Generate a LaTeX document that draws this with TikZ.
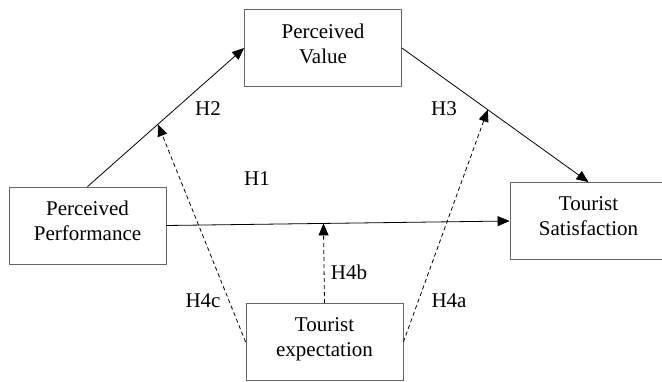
\documentclass[tikz,border=0pt]{standalone}
\usepackage{fontspec}
\setmainfont{Liberation Serif}
\usetikzlibrary{arrows.meta,calc}

\begin{document}
\begin{tikzpicture}[x=1pt,y=-1pt,
      box/.style={draw=black!60,line width=.8pt,minimum width=157pt,minimum height=77pt,
        align=center,inner sep=0pt,text depth=9pt,font=\fontsize{21}{25}\selectfont},
      effect/.style={-{Triangle[length=12pt,width=10pt]},line width=.8pt},
      moderate/.style={effect,dash pattern=on 4pt off 3pt},
      hyp/.style={font=\fontsize{21}{25}\selectfont}
      ]
      \useasboundingbox (0,0) rectangle (662,382);

      \node[box] (pv) at (323,48) {Perceived\\Value};
      \node[box] (pp) at (87.5,225.5) {Perceived\\Performance};
      \node[box] (ts) at (588.5,221) {Tourist\\Satisfaction};
      \node[box] (te) at (324.5,342) {Tourist\\expectation};

      \draw[effect] (pp.north) -- (pv.west);
      \draw[effect] (pv.east) -- (ts.north);
      \draw[effect] (pp.east) -- (ts.west);

      \coordinate (m2) at ($(pp.north)!.45!(pv.west)$);
      \coordinate (m3) at ($(pv.east)!.46!(ts.north)$);
      \coordinate (m1) at ($(pp.east)!(te.north)!(ts.west)$);
      \draw[moderate] (te.west) -- (m2);
      \draw[moderate] (te.east) -- (m3);
      \draw[moderate] (te.north) -- (m1);

      \node[hyp] (h1) at (257,179) {H1};
      \node[hyp] (h2) at (208,109) {H2};
      \node[hyp] (h3) at (444,109) {H3};
      \node[hyp] (h4a) at (449,301) {H4a};
      \node[hyp] (h4b) at (349,272) {H4b};
      \node[hyp] (h4c) at (203,301) {H4c};
    \end{tikzpicture}
\end{document}
